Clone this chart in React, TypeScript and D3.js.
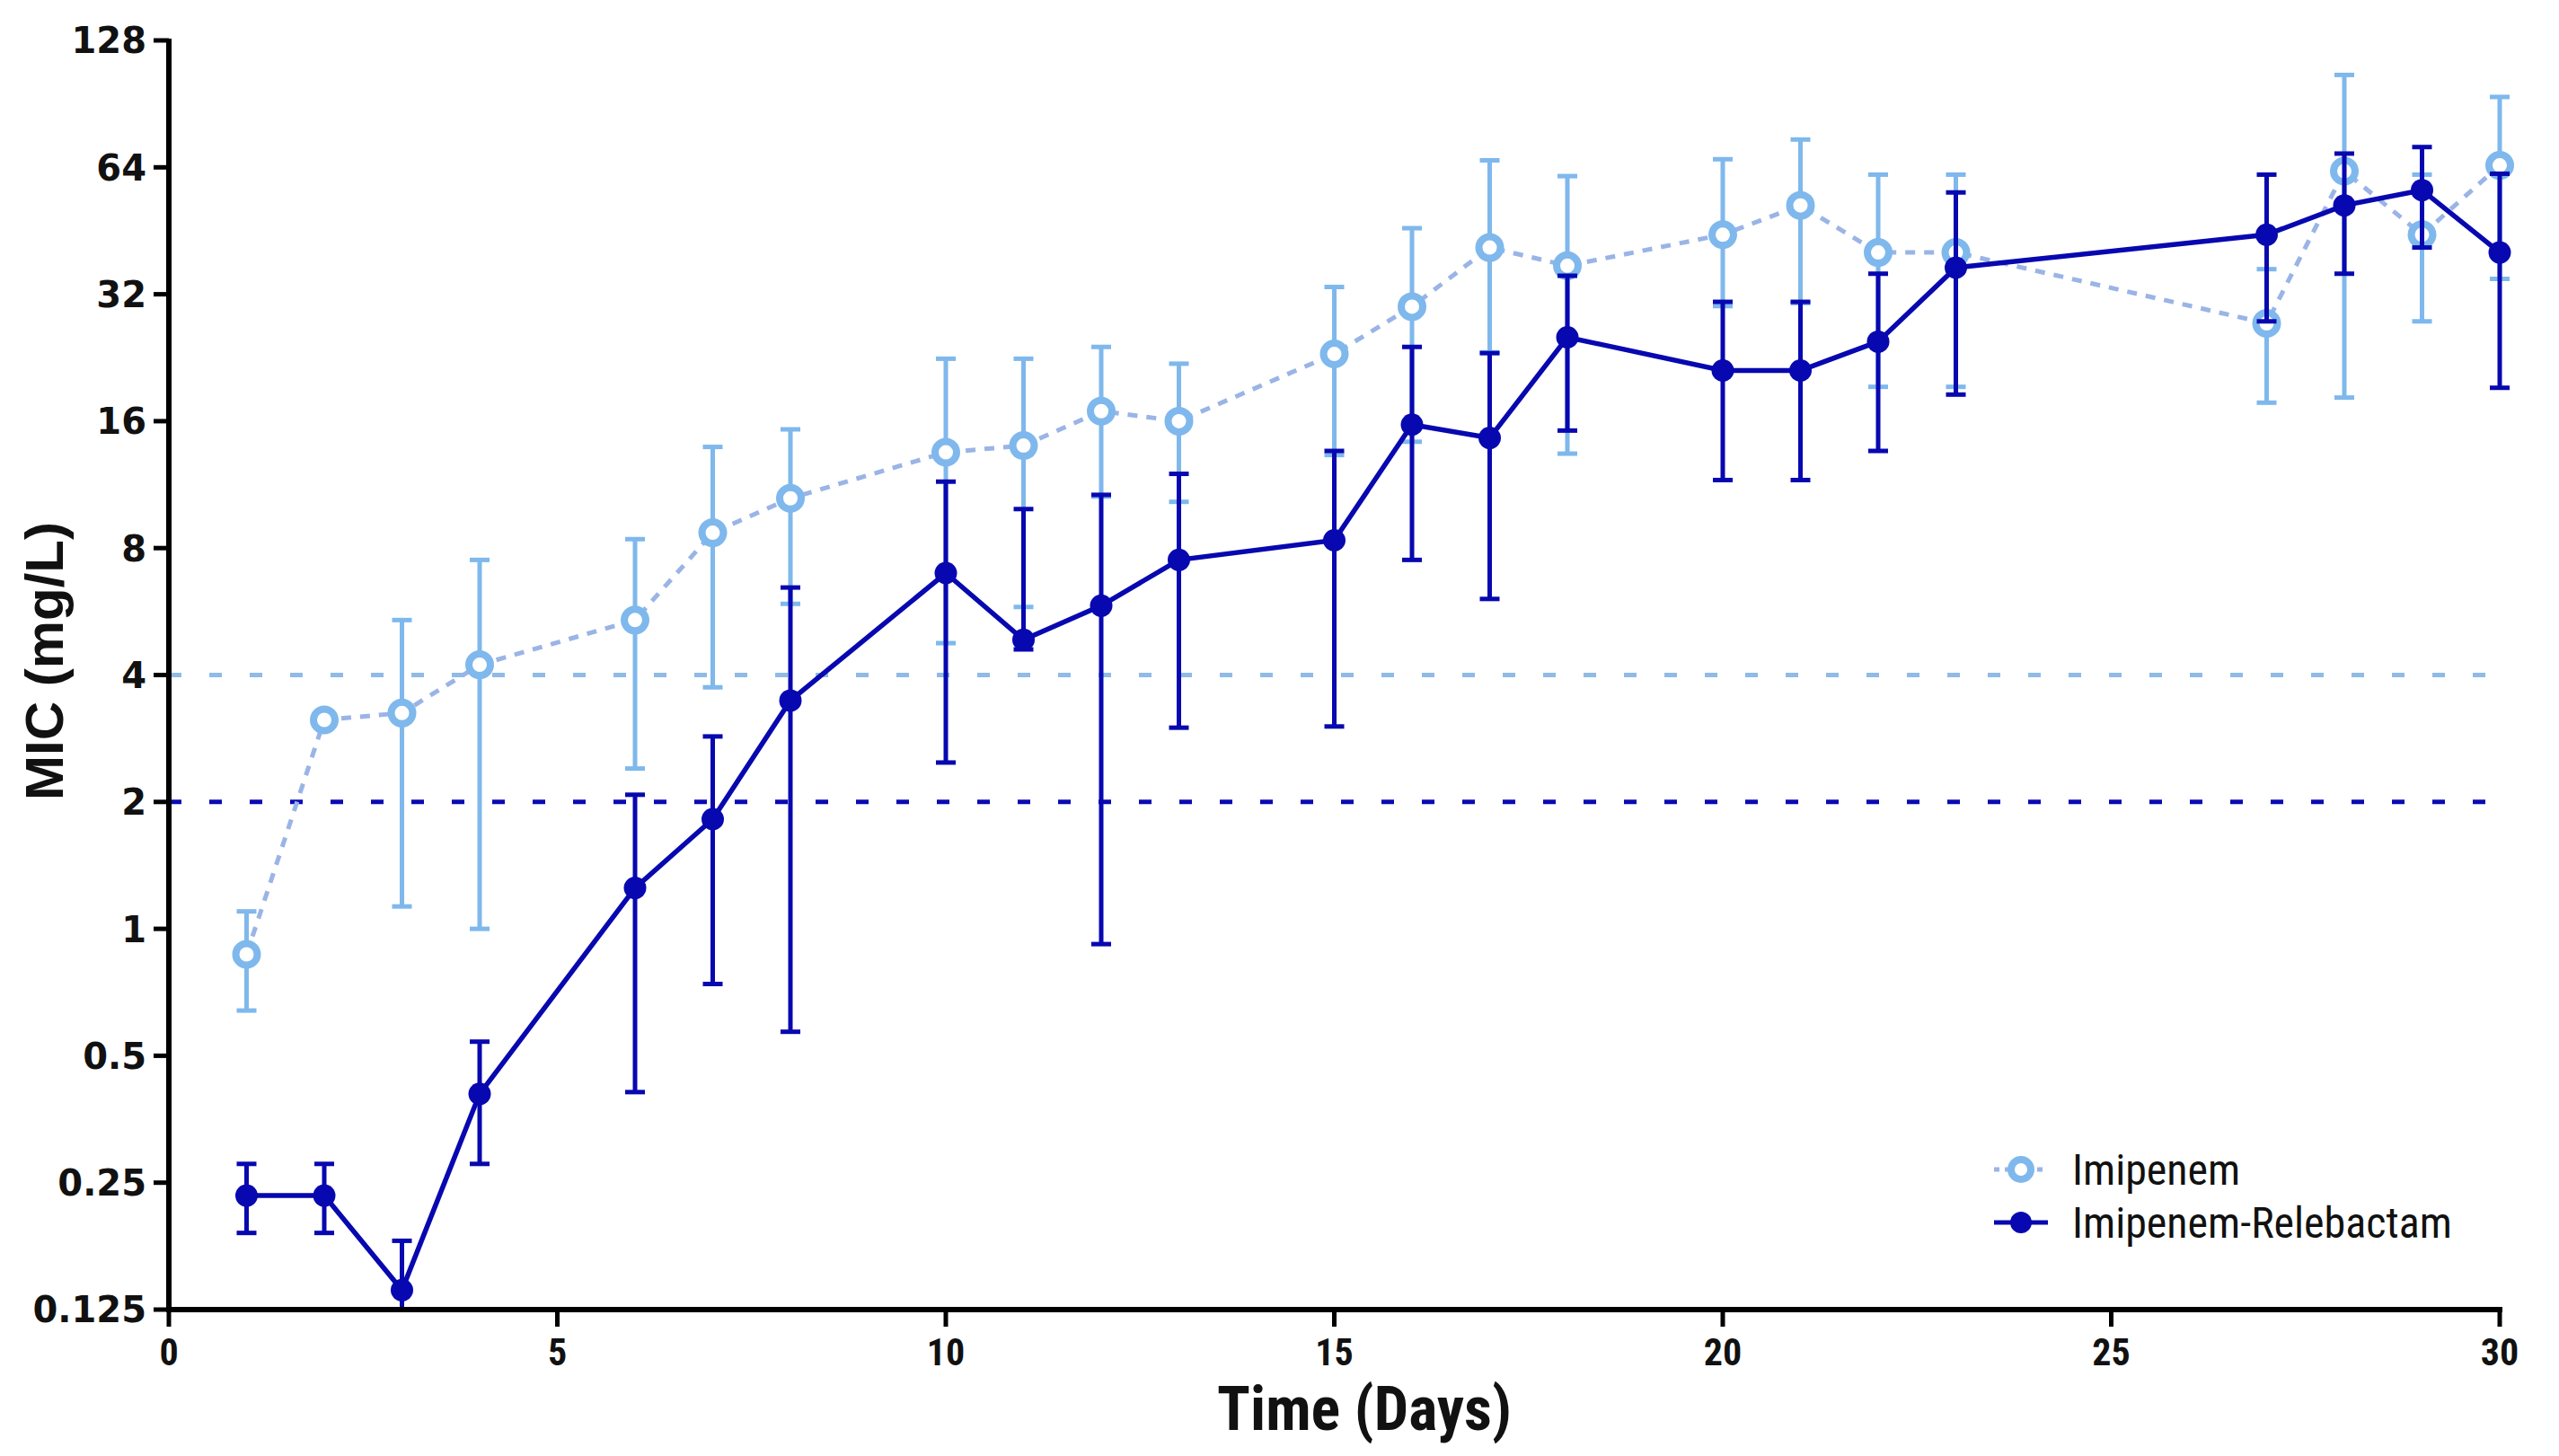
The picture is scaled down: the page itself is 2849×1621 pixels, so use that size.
import { useEffect } from "react";
import * as d3 from "d3";

// days sampled
const days = [1, 2, 3, 4, 6, 7, 8, 10, 11, 12, 13, 15, 16, 17, 18, 20, 21, 22, 23, 27, 28, 29, 30];

// Imipenem: mean MIC with lower / upper error
const imiMean = [0.87, 3.13, 3.25, 4.23, 5.4, 8.7, 10.5, 13.5, 14.0, 16.9, 16.0, 23.1, 29.9, 41.3, 37.4, 44.3, 52, 40.2, 40.2, 27.3, 62.7, 44.3, 64.7];
const imiLow = [0.64, 3.13, 1.13, 1.0, 2.4, 3.74, 5.9, 4.76, 5.8, 10.6, 10.3, 13.3, 14.3, 23.3, 13.4, 30, 30.5, 19.3, 19.3, 17.7, 18.2, 27.6, 34.8];
const imiHigh = [1.1, 3.13, 5.4, 7.5, 8.4, 13.9, 15.3, 22.5, 22.5, 24, 21.9, 33.3, 45.9, 66.5, 61, 66.9, 74.5, 61.5, 61.5, 36.7, 106, 61.5, 94];

// Imipenem-Relebactam
const irMean = [0.233, 0.233, 0.139, 0.406, 1.25, 1.82, 3.48, 6.98, 4.85, 5.84, 7.5, 8.35, 15.7, 14.6, 25.3, 21.1, 21.1, 24.7, 37.0, 44.3, 52, 56.5, 40.2];
const irLow = [0.19, 0.19, 0.125, 0.277, 0.41, 0.74, 0.57, 2.48, 4.6, 0.92, 3.0, 3.02, 7.5, 6.06, 15.2, 11.6, 11.6, 13.6, 18.5, 27.6, 35.8, 41.3, 19.2];
const irHigh = [0.277, 0.277, 0.182, 0.54, 2.08, 2.86, 6.45, 11.5, 9.9, 10.7, 12.0, 13.6, 24.0, 23.2, 35.4, 30.7, 30.7, 35.8, 55.8, 61.5, 69, 71.5, 61.8];

const yTicks = [0.125, 0.25, 0.5, 1, 2, 4, 8, 16, 32, 64, 128];
const yTickLabels = ["0.125", "0.25", "0.5", "1", "2", "4", "8", "16", "32", "64", "128"];
const xTicks = [0, 5, 10, 15, 20, 25, 30];
const breakpoints = [
  { value: 4, color: "#8fbbe6" },
  { value: 2, color: "#0a0ab4" },
];

const W = 2849;
const H = 1621;
const LIGHT = "#7fb8ec";
const LIGHT_LINE = "#9ab4e6";
const DARK = "#0808b0";

export default function App() {
  useEffect(() => {
    document.body.style.margin = "0";
  }, []);

  const x = d3.scaleLinear().domain([0, 30]).range([188, 2783]);
  const y = d3.scaleLog().base(2).domain([0.125, 128]).range([1458, 45]);

  const imi = days.map((d, i) => ({ d, m: imiMean[i], lo: imiLow[i], hi: imiHigh[i] }));
  const ir = days.map((d, i) => ({ d, m: irMean[i], lo: irLow[i], hi: irHigh[i] }));

  const line = d3
    .line<{ d: number; m: number }>()
    .x((p) => x(p.d))
    .y((p) => y(p.m));

  const cap = 11;
  const wideFont = "'DejaVu Sans', Arial, sans-serif";
  const titleFont = "'Liberation Sans', Arial, sans-serif";
  const narrow = "'Liberation Sans Narrow', 'Arial Narrow', 'Roboto Condensed', sans-serif";

  const errBars = (data: typeof imi, color: string) =>
    data.map((p, i) => (
      <g key={i} stroke={color} strokeWidth={5}>
        <line x1={x(p.d)} x2={x(p.d)} y1={y(p.lo)} y2={y(p.hi)} />
        <line x1={x(p.d) - cap} x2={x(p.d) + cap} y1={y(p.hi)} y2={y(p.hi)} />
        <line x1={x(p.d) - cap} x2={x(p.d) + cap} y1={y(p.lo)} y2={y(p.lo)} />
      </g>
    ));

  return (
    <svg width={W} height={H} style={{ display: "block", background: "#fff" }}>
      {/* breakpoint reference lines */}
      {breakpoints.map((b) => (
        <line
          key={b.value}
          x1={x(0)}
          x2={x(30)}
          y1={y(b.value)}
          y2={y(b.value)}
          stroke={b.color}
          strokeWidth={5}
          strokeDasharray="14 31"
        />
      ))}

      {/* Imipenem */}
      {errBars(imi, LIGHT)}
      <path d={line(imi) ?? ""} fill="none" stroke={LIGHT_LINE} strokeWidth={5} strokeDasharray="11 10" />
      {imi.map((p, i) => (
        <circle key={i} cx={x(p.d)} cy={y(p.m)} r={12} fill="#fff" stroke={LIGHT} strokeWidth={8} />
      ))}

      {/* Imipenem-Relebactam */}
      {errBars(ir, DARK)}
      <path d={line(ir) ?? ""} fill="none" stroke={DARK} strokeWidth={5.5} />
      {ir.map((p, i) => (
        <circle key={i} cx={x(p.d)} cy={y(p.m)} r={12.5} fill={DARK} />
      ))}

      {/* y axis */}
      <line x1={x(0)} x2={x(0)} y1={y(128) - 2} y2={y(0.125) + 2} stroke="#000" strokeWidth={6} />
      {yTicks.map((t, i) => (
        <g key={t}>
          <line x1={x(0) - 17} x2={x(0)} y1={y(t)} y2={y(t)} stroke="#000" strokeWidth={5} />
          <text
            x={x(0) - 25}
            y={y(t)}
            dy="0.36em"
            textAnchor="end"
            fontFamily={wideFont}
            fontWeight="bold"
            fontSize={40}
            fill="#111"
          >
            {yTickLabels[i]}
          </text>
        </g>
      ))}

      {/* x axis */}
      <line x1={x(0) - 3} x2={x(30) + 3} y1={y(0.125)} y2={y(0.125)} stroke="#000" strokeWidth={6} />
      {xTicks.map((t) => (
        <g key={t}>
          <line x1={x(t)} x2={x(t)} y1={y(0.125)} y2={y(0.125) + 19} stroke="#000" strokeWidth={5} />
          <text
            x={x(t)}
            y={1520}
            textAnchor="middle"
            fontFamily={narrow}
            fontWeight="bold"
            fontSize={42}
            fill="#111"
          >
            {t}
          </text>
        </g>
      ))}

      {/* axis titles */}
      <text
        x={1519}
        y={1592}
        textAnchor="middle"
        fontFamily={narrow}
        fontWeight="bold"
        fontSize={68}
        fill="#111"
      >
        Time (Days)
      </text>
      <text
        transform="translate(70, 736) rotate(-90)"
        textAnchor="middle"
        fontFamily={titleFont}
        fontWeight="bold"
        fontSize={60}
        fill="#111"
      >
        MIC (mg/L)
      </text>

      {/* legend */}
      <g>
        <line x1={2220} x2={2280} y1={1302} y2={1302} stroke={LIGHT_LINE} strokeWidth={5} strokeDasharray="6 6" />
        <circle cx={2250} cy={1302} r={11} fill="#fff" stroke={LIGHT} strokeWidth={8} />
        <text x={2307} y={1302} dy="0.35em" fontFamily={narrow} fontSize={48} fill="#111">
          Imipenem
        </text>
        <line x1={2220} x2={2280} y1={1361} y2={1361} stroke={DARK} strokeWidth={5} />
        <circle cx={2250} cy={1361} r={12} fill={DARK} />
        <text x={2307} y={1361} dy="0.35em" fontFamily={narrow} fontSize={48} fill="#111">
          Imipenem-Relebactam
        </text>
      </g>
    </svg>
  );
}
